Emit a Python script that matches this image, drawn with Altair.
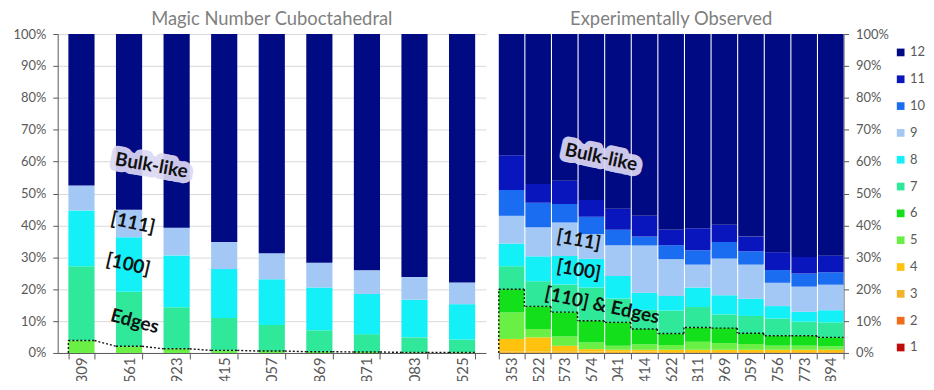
import altair as alt
import pandas as pd

# ---------------- data ----------------
left_sizes = ["309", "561", "923", "1415", "2057", "2869", "3871", "5083", "6525"]
left_cn5 = [3.9, 2.1, 1.3, 0.8, 0.6, 0.4, 0.3, 0.2, 0.2]
left_cn7 = [23.3, 17.1, 13.0, 10.2, 8.2, 6.7, 5.6, 4.7, 4.0]
left_cn8 = [17.5, 17.1, 16.3, 15.3, 14.3, 13.4, 12.6, 11.8, 11.1]
left_cn9 = [7.8, 8.6, 8.7, 8.5, 8.2, 7.8, 7.4, 7.1, 6.8]
left_cn12 = [47.5, 55.1, 60.7, 65.2, 68.7, 71.7, 74.1, 76.2, 77.9]

right_sizes = ["353", "522", "573", "674", "1041", "1414", "1622", "1811", "1969",
               "2059", "3756", "4773", "4894"]
right_cn1 = [0, 0, 0, 0, 0, 0, 0, 0, 0, 0, 0, 0, 0]
right_cn2 = [0, 0, 0, 0, 0, 0, 0, 0, 0, 0, 0, 0, 0]
right_cn3 = [0.5, 0.5, 0.5, 0.4, 0.4, 0.4, 0.3, 0.3, 0.3, 0.3, 0.3, 0.3, 0.3]
right_cn4 = [3.9, 4.4, 1.8, 0.8, 0.6, 0.6, 0.7, 0.7, 0.7, 0.7, 0.7, 0.7, 0.7]
right_cn5 = [8.3, 2.6, 2.9, 2.1, 1.3, 1.7, 1.5, 2.5, 2.1, 1.8, 1.3, 1.3, 1.1]
right_cn6 = [7.3, 7.1, 7.6, 6.8, 7.3, 4.8, 3.6, 4.5, 4.7, 3.4, 3.1, 3.1, 2.8]
right_cn7 = [7.2, 7.9, 8.7, 10.4, 7.5, 6.0, 7.2, 6.4, 4.3, 5.4, 5.4, 4.4, 4.7]
right_cn8 = [7.1, 7.8, 8.9, 9.0, 7.0, 5.4, 4.6, 6.1, 6.0, 5.4, 3.9, 3.1, 3.8]
right_cn9 = [8.7, 9.1, 10.5, 7.8, 9.7, 14.8, 11.5, 7.2, 11.5, 10.7, 7.3, 7.9, 8.0]
right_cn10 = [8.1, 7.7, 5.8, 5.4, 4.8, 2.8, 4.4, 4.5, 5.2, 4.2, 4.0, 4.1, 3.9]
right_cn11 = [10.9, 5.9, 7.3, 5.3, 6.6, 6.5, 4.8, 6.9, 5.4, 4.6, 5.6, 5.2, 5.2]
right_cn12 = [38.0, 47.0, 46.0, 52.0, 54.8, 57.0, 61.4, 60.9, 59.8, 63.5, 68.4, 69.9, 69.5]

cn_labels = ["12", "11", "10", "9", "8", "7", "6", "5", "4", "3", "2", "1"]
cn_colors = ["#000a82", "#0a16bd", "#1a6cf0", "#a3c8f5", "#14f0f8", "#2fe89a",
             "#13e01a", "#6aef45", "#ffc20e", "#f2b229", "#f06c1c", "#c00a0a"]

y_ticks = [0, 10, 20, 30, 40, 50, 60, 70, 80, 90, 100]

# ---------------- build tables ----------------
left_layers = [(5, left_cn5), (7, left_cn7), (8, left_cn8), (9, left_cn9), (12, left_cn12)]
left_rows = []
for i, s in enumerate(left_sizes):
    for cn, vals in left_layers:
        left_rows.append({"size": s, "cn": str(cn), "ord": cn, "pct": vals[i]})
left_df = pd.DataFrame(left_rows)

right_layers = [(1, right_cn1), (2, right_cn2), (3, right_cn3), (4, right_cn4),
                (5, right_cn5), (6, right_cn6), (7, right_cn7), (8, right_cn8),
                (9, right_cn9), (10, right_cn10), (11, right_cn11), (12, right_cn12)]
right_rows = []
for i, s in enumerate(right_sizes):
    for cn, vals in right_layers:
        right_rows.append({"size": s, "cn": str(cn), "ord": cn, "pct": vals[i]})
right_df = pd.DataFrame(right_rows)

FONT = "Lato"
GRAY = "#595959"
color_scale = alt.Scale(domain=cn_labels, range=cn_colors)
y_scale = alt.Scale(domain=[0, 100], nice=False)


def x_axis():
    return alt.Axis(title=None, labelAngle=270, labelFont=FONT, labelFontSize=15,
                    labelColor=GRAY, tickBand="extent", tickSize=6, labelPadding=-2,
                    domainColor=GRAY, tickColor=GRAY, grid=False)


def y_axis(orient, grid, extent, pad):
    return alt.Axis(title=None, orient=orient, values=y_ticks,
                    labelExpr="datum.value + '%'", grid=grid, gridColor="#d9d9d9",
                    domainColor=GRAY, tickColor=GRAY, tickSize=5, labelPadding=pad,
                    labelFont=FONT, labelFontSize=13, labelColor=GRAY,
                    minExtent=extent, maxExtent=extent)


def make_panel(df, sizes, xscale, width, yaxis, legend, edge_vals, step_line, notes, title):
    def X(field, bp=None):
        kw = dict(sort=sizes, scale=xscale, axis=x_axis(), title=None)
        if bp is not None:
            kw["bandPosition"] = bp
        return alt.X(f"{field}:N", **kw)

    def Y(field):
        return alt.Y(f"{field}:Q", scale=y_scale, axis=yaxis, title=None)

    bars = alt.Chart(df).mark_bar().encode(
        x=X("size"),
        y=alt.Y("pct:Q", stack="zero", scale=y_scale, axis=yaxis, title=None),
        color=alt.Color("cn:N", scale=color_scale, legend=legend),
        order=alt.Order("ord:Q", sort="ascending"),
    )
    layers = [bars]

    dot = dict(color="#111111", strokeDash=[2, 2], strokeWidth=1.4)
    tops = pd.DataFrame({"size": sizes, "v": edge_vals})
    layers.append(alt.Chart(tops).mark_rule(**dot).encode(
        x=X("size", 0), x2=alt.X2("size:N", bandPosition=1), y=Y("v")))
    conn = pd.DataFrame({"a": sizes[:-1], "b": sizes[1:],
                         "v1": edge_vals[:-1], "v2": edge_vals[1:]})
    if step_line:
        layers.append(alt.Chart(conn).mark_rule(**dot).encode(
            x=X("a", 1), y=Y("v1"), y2=alt.Y2("v2:Q")))
    else:
        layers.append(alt.Chart(conn).mark_rule(**dot).encode(
            x=X("a", 1), x2=alt.X2("b:N", bandPosition=0), y=Y("v1"), y2=alt.Y2("v2:Q")))
    first = pd.DataFrame({"size": [sizes[0]], "v0": [0], "v": [edge_vals[0]]})
    layers.append(alt.Chart(first).mark_rule(**dot).encode(
        x=X("size", 0), y=Y("v0"), y2=alt.Y2("v:Q")))

    for text, cat, yv, dx, ang, halo in notes:
        ndf = pd.DataFrame({"size": [cat], "y": [yv], "label": [text]})
        base = alt.Chart(ndf).encode(x=X("size"), y=Y("y"), text="label:N")
        if halo:
            layers.append(base.mark_text(angle=ang, dx=dx, font=FONT, fontSize=19,
                                         fontWeight="bold", color="#dcd8f4",
                                         stroke="#dcd8f4", strokeWidth=12,
                                         strokeJoin="round", opacity=0.92))
        layers.append(base.mark_text(angle=ang, dx=dx, font=FONT, fontSize=19,
                                     fontWeight="bold", color="#111111"))

    return alt.layer(*layers).properties(
        width=width, height=321,
        title=alt.TitleParams(title, font=FONT, fontSize=18.5, fontWeight="normal",
                              color="#808080", anchor="middle", frame="group", offset=0),
    )


left_xscale = alt.Scale(domain=left_sizes, paddingInner=0.45, paddingOuter=0.225)
right_xscale = alt.Scale(domain=right_sizes, paddingInner=0.04, paddingOuter=0)

left_notes = [
    ("Bulk-like", "561", 60, 23, 10, True),
    ("[111]", "561", 41, 4, 12, False),
    ("[100]", "561", 27.7, -1, 13, False),
    ("Edges", "561", 10.4, 6, 15, False),
]
right_notes = [
    ("Bulk-like", "674", 62, 10, 12, True),
    ("[111]", "674", 34.7, -13, 10, False),
    ("[100]", "674", 25.3, -13, 10, False),
    ("[110] & Edges", "674", 15.6, 11, 12, False),
]

right_edge = [round(sum(v[i] for _, v in right_layers[:6]), 2) for i in range(len(right_sizes))]

left = make_panel(left_df, left_sizes, left_xscale, 431, y_axis("left", True, 43, 7), None,
                  left_cn5, False, left_notes, "Magic Number Cuboctahedral")

legend = alt.Legend(title=None, orient="none", legendX=398, legendY=12,
                    symbolType="square", symbolSize=60, symbolStrokeWidth=0,
                    labelFont=FONT, labelFontSize=13, labelColor=GRAY,
                    rowPadding=13, labelOffset=3, padding=0, labelLimit=30)
right = make_panel(right_df, right_sizes, right_xscale, 347,
                   y_axis("right", False, 40, 7), legend,
                   right_edge, True, right_notes, "Experimentally Observed")

chart = alt.hconcat(left, right, spacing=6).resolve_scale(
    color="independent"
).properties(
    padding={"left": 4, "top": 0, "right": 0, "bottom": -12}
).configure_view(stroke=None)

chart.save("out.html", embed_options={"renderer": "svg", "actions": False})
